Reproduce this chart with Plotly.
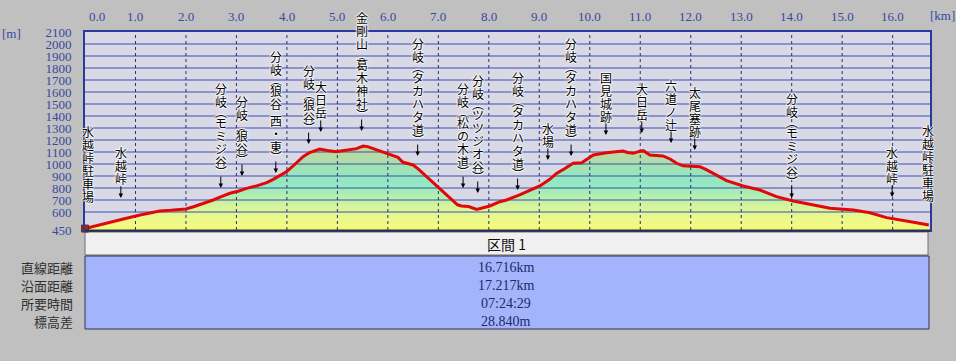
import plotly.graph_objects as go

# ---------------- data ----------------
km = [0.00, 0.15, 0.29, 0.50, 0.76, 1.09, 1.30, 1.48, 1.70, 1.88, 2.00, 2.15, 2.35, 2.54, 2.70,
      2.87, 3.05, 3.20, 3.40, 3.60, 3.73, 3.90, 3.99, 4.10, 4.26, 4.32, 4.45, 4.65, 4.80, 4.98,
      5.10, 5.25, 5.38, 5.51, 5.60, 5.78, 5.90, 6.04, 6.20, 6.30, 6.50, 6.60, 6.70, 6.85, 7.03,
      7.15, 7.29, 7.38, 7.46, 7.60, 7.76, 7.90, 8.02, 8.22, 8.35, 8.61, 8.80, 9.01, 9.20, 9.34,
      9.50, 9.67, 9.84, 9.95, 10.07, 10.33, 10.50, 10.66, 10.75, 10.86, 10.98, 11.06, 11.19,
      11.45, 11.60, 11.72, 11.85, 11.98, 12.18, 12.30, 12.45, 12.71, 13.04, 13.37, 13.70, 14.03,
      14.36, 14.76, 15.22, 15.55, 15.88, 16.21, 16.47, 16.716]
elev = [462, 478, 497, 515, 542, 575, 592, 608, 614, 617, 625, 644, 672, 700, 728,
        756, 775, 797, 818, 845, 872, 910, 936, 975, 1033, 1061, 1095, 1125, 1112, 1102,
        1110, 1117, 1128, 1150, 1145, 1117, 1100, 1083, 1055, 1014, 992, 960, 922, 865, 797,
        750, 700, 660, 650, 645, 622, 636, 650, 686, 700, 742, 775, 817, 870, 922,
        960, 1006, 1011, 1045, 1075, 1094, 1100, 1108, 1096, 1089, 1105, 1111, 1075,
        1067, 1040, 1006, 985, 983, 978, 955, 922, 861, 817, 783, 728, 692,
        664, 631, 617, 594, 553, 533, 511, 491]

label_text = ["水越峠駐車場", "水越峠↓", "分岐︵モミジ谷︶↓", "分岐︵狼谷︶↓", "分岐︵狼谷 西・東︶↓",
              "分岐︵狼谷︶↓", "大日岳↓", "金剛山︵葛木神社︶↓", "分岐︵タカハタ道︶↓",
              "分岐︵松の木道︶↓", "分岐︵ツツジオ谷︶↓", "分岐︵タカハタ道︶↓", "水場↓",
              "分岐︵タカハタ道︶↓", "国見城跡↓", "大日岳↓", "六道ノ辻↓", "太尾塞跡↓",
              "分岐︵モミジ谷︶↓", "水越峠↓", "水越峠駐車場"]
label_km = [0.05, 0.71, 2.69, 3.11, 3.78, 4.43, 4.67, 5.48, 6.59, 7.49, 7.78, 8.57, 9.17,
            9.63, 10.32, 11.03, 11.61, 12.08, 14.00, 15.99, 16.70]
label_top = [1275, 1092, 1633, 1517, 1900, 1783, 1642, 2217, 2008, 1633, 1700, 1725, 1300,
             2008, 1725, 1633, 1658, 1600, 1550, 1100, 1283]

ytick_vals = [450, 600, 700, 800, 900, 1000, 1100, 1200, 1300, 1400, 1500, 1600, 1700, 1800,
              1900, 2000, 2100]
ytick_text = [str(v) for v in ytick_vals]
grid_y = [600, 700, 800, 900, 1000, 1100, 1200, 1300, 1400, 1500, 1600, 1700, 1800, 1900, 2000]
xtick_vals = [0, 1, 2, 3, 4, 5, 6, 7, 8, 9, 10, 11, 12, 13, 14, 15, 16]
xtick_text = ["0.0", "1.0", "2.0", "3.0", "4.0", "5.0", "6.0", "7.0", "8.0", "9.0", "10.0",
              "11.0", "12.0", "13.0", "14.0", "15.0", "16.0"]

table_header = "区間 1"
table_rows = ["直線距離", "沿面距離", "所要時間", "標高差"]
table_vals = ["16.716km", "17.217km", "07:24:29", "28.840m"]

# ---------------- layout geometry ----------------
W, H = 956, 361
L, R, T, B = 85, 930, 32, 230
XMAX = 16.74
YMIN, YMAX = 450, 2100


def px2paper_x(px):
    return (px - L) / (R - L)


def py2paper_y(py):
    return (B - py) / (B - T)


def elev2paper(e):
    return (e - YMIN) / (YMAX - YMIN)


TICK_BLUE = "#3848a0"
SERIF = "Liberation Serif"
CJK = "Noto Sans CJK JP"
HALO = "1px 0px 1px #fff, -1px 0px 1px #fff, 0px 1px 1px #fff, 0px -1px 1px #fff"

fig = go.Figure()

# fill with vertical gradient
fig.add_trace(go.Scatter(
    x=km, y=elev, mode="none", fill="tozeroy",
    fillgradient=dict(type="vertical", start=450, stop=1160,
                      colorscale=[[0.0, "#f4fa78"], [0.14, "#ecf88c"], [0.28, "#d4f49c"],
                                  [0.42, "#aceeb4"], [0.56, "#90e8c4"], [0.70, "#9ce4b6"],
                                  [0.85, "#b4dca6"], [1.0, "#c8d496"]]),
    hoverinfo="skip", showlegend=False))

# horizontal grid lines (drawn over the fill)
gx, gy = [], []
for v in grid_y:
    gx += [0, XMAX, None]
    gy += [v, v, None]
fig.add_trace(go.Scatter(x=gx, y=gy, mode="lines", line=dict(color="#3c4cb0", width=1),
                         hoverinfo="skip", showlegend=False))
# vertical dotted grid lines
vx, vy = [], []
for v in xtick_vals[1:]:
    vx += [v, v, None]
    vy += [YMIN, YMAX, None]
fig.add_trace(go.Scatter(x=vx, y=vy, mode="lines",
                         line=dict(color="#283070", width=1, dash="dot"),
                         hoverinfo="skip", showlegend=False))

# profile line
fig.add_trace(go.Scatter(x=km, y=elev, mode="lines", line=dict(color="#e00808", width=3),
                         hoverinfo="skip", showlegend=False))
# start marker (hiker)
fig.add_trace(go.Scatter(x=[km[0]], y=[elev[0]], mode="markers",
                         marker=dict(symbol="square", size=7, color="#a02818",
                                     line=dict(color="#603010", width=1)),
                         cliponaxis=False, hoverinfo="skip", showlegend=False))

annotations = []
# vertical labels: one annotation per character, arrows drawn as annotation arrows
for txt, xk, top in zip(label_text, label_km, label_top):
    off = 0.0
    prev_h = None
    ytop = elev2paper(top)
    for ch in txt:
        h = 8 if ch in "︵︶" else (4 if ch == " " else 13)
        if prev_h is not None:
            off += (prev_h + h) / 2
        prev_h = h
        if ch == " ":
            continue
        if ch == "↓":
            annotations.append(dict(
                x=xk, y=ytop, xref="x", yref="paper", yshift=-(off + 6), text="",
                showarrow=True, arrowhead=2, arrowsize=0.9, arrowwidth=1,
                arrowcolor="#000000", ax=0, ay=-13, standoff=0, startstandoff=0))
            continue
        annotations.append(dict(
            x=xk, y=ytop, xref="x", yref="paper", yshift=-off, text=ch, showarrow=False,
            xanchor="center", yanchor="middle",
            font=dict(family=CJK, size=12, color="#000000", shadow=HALO)))

# top x tick labels
for v, t in zip(xtick_vals, xtick_text):
    annotations.append(dict(x=v, y=1, xref="x", yref="paper", yshift=16,
                            xshift=12 if v == 0 else 0, text=t, showarrow=False,
                            xanchor="center", yanchor="middle",
                            font=dict(family=SERIF, size=13, color=TICK_BLUE)))
annotations.append(dict(x=px2paper_x(942), y=py2paper_y(16), xref="paper", yref="paper",
                        text="[km]", showarrow=False, xanchor="center", yanchor="middle",
                        font=dict(family=SERIF, size=13, color=TICK_BLUE)))
annotations.append(dict(x=px2paper_x(11), y=py2paper_y(33), xref="paper", yref="paper",
                        text="[m]", showarrow=False, xanchor="center", yanchor="middle",
                        font=dict(family=SERIF, size=13, color=TICK_BLUE)))

# table
shapes = []
shapes.append(dict(type="rect", xref="paper", yref="paper",
                   x0=px2paper_x(85), x1=px2paper_x(928), y0=py2paper_y(232), y1=py2paper_y(255),
                   fillcolor="#f0f0f0", line=dict(color="#707070", width=1), layer="below"))
shapes.append(dict(type="rect", xref="paper", yref="paper",
                   x0=px2paper_x(85), x1=px2paper_x(929), y0=py2paper_y(256), y1=py2paper_y(329),
                   fillcolor="#a4b4fc", line=dict(color="#303050", width=1), layer="below"))
shapes.append(dict(type="line", xref="paper", yref="paper", x0=0, x1=1,
                   y0=py2paper_y(230.5), y1=py2paper_y(230.5),
                   line=dict(color="#303048", width=2)))

annotations.append(dict(x=px2paper_x(506), y=py2paper_y(244), xref="paper", yref="paper",
                        text=table_header, showarrow=False, xanchor="center", yanchor="middle",
                        font=dict(family=CJK, size=14, color="#101010")))
row_y = [267, 285, 303, 321]
for name, val, ry in zip(table_rows, table_vals, row_y):
    annotations.append(dict(x=px2paper_x(75), y=py2paper_y(ry), xref="paper", yref="paper",
                            text=name, showarrow=False, xanchor="right", yanchor="middle",
                            font=dict(family=CJK, size=13, color="#303030")))
    annotations.append(dict(x=px2paper_x(506), y=py2paper_y(ry), xref="paper", yref="paper",
                            text=val, showarrow=False, xanchor="center", yanchor="middle",
                            font=dict(family=SERIF, size=14, color="#202868")))

fig.update_layout(
    width=W, height=H,
    margin=dict(l=L, r=W - R, t=T, b=H - B, pad=0),
    paper_bgcolor="#c0c0c0", plot_bgcolor="#d9d9e6",
    showlegend=False,
    xaxis=dict(range=[0, XMAX], showgrid=False, zeroline=False, showticklabels=False,
               showline=True, mirror=True, linecolor="#2a3a9a", linewidth=2, fixedrange=True),
    yaxis=dict(range=[YMIN, YMAX], showgrid=False, zeroline=False,
               tickvals=ytick_vals, ticktext=ytick_text, ticks="outside", ticklen=9,
               tickcolor="rgba(0,0,0,0)",
               tickfont=dict(family=SERIF, size=13, color=TICK_BLUE),
               showline=True, mirror=True, linecolor="#2a3a9a", linewidth=2, fixedrange=True),
    annotations=annotations, shapes=shapes,
)

fig.write_html("out.html", config={"displayModeBar": False, "staticPlot": True},
               post_script="document.body.style.margin='0';"
                           "document.body.style.background='#c0c0c0';")
